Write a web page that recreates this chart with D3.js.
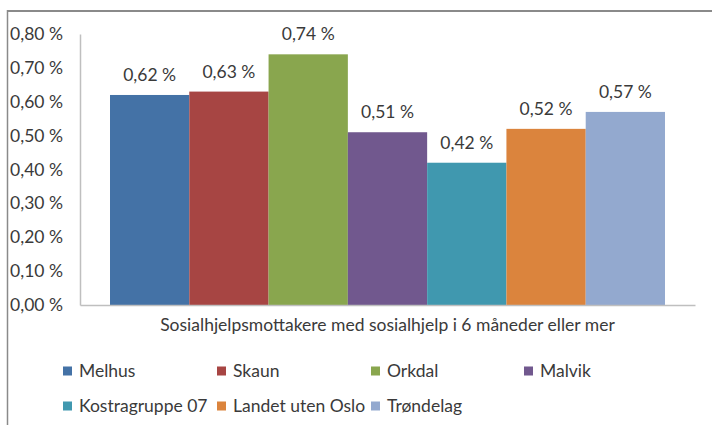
<!DOCTYPE html>
<html>
<head>
<meta charset="utf-8">
<script src="https://cdn.jsdelivr.net/npm/d3@7"></script>
<style>
  html, body { margin: 0; padding: 0; background: #fff; }
  svg { display: block; }
  text { font-family: Lato, "Open Sans", sans-serif; fill: #3a3a3a; }
</style>
</head>
<body>
<svg id="chart" width="712" height="425"></svg>
<script>
// Share of social assistance recipients on assistance for 6 months or more
const category = "Sosialhjelpsmottakere med sosialhjelp i 6 måneder eller mer";
const seriesNames = ["Melhus", "Skaun", "Orkdal", "Malvik", "Kostragruppe 07", "Landet uten Oslo", "Trøndelag"];
const seriesValues = [0.62, 0.63, 0.74, 0.51, 0.42, 0.52, 0.57];
const seriesColors = ["#4472a6", "#a74543", "#89a64e", "#71588e", "#4098af", "#db843d", "#93a9cf"];
const yTicks = [0, 0.1, 0.2, 0.3, 0.4, 0.5, 0.6, 0.7, 0.8];

const svg = d3.select("#chart");
const fmt = v => v.toFixed(2).replace(".", ",") + " %";
const fontSize = "17.5px";

const plot = { left: 80, right: 695, top: 34, bottom: 305 };

// frame lines (top and left edge)
svg.append("line").attr("x1", 7.5).attr("x2", 712).attr("y1", 11).attr("y2", 11)
  .attr("stroke", "#8a8a8a").attr("stroke-width", 2);
svg.append("line").attr("x1", 7.5).attr("x2", 7.5).attr("y1", 10).attr("y2", 425)
  .attr("stroke", "#8a8a8a").attr("stroke-width", 1.5);

const y = d3.scaleLinear().domain([0, 0.8]).range([plot.bottom, plot.top]);

const x0 = d3.scaleBand().domain([category]).range([plot.left, plot.right])
  .paddingOuter(30 / 555);
const x1 = d3.scaleBand().domain(seriesNames).range([0, x0.bandwidth()]).padding(0);

// y axis
const yAxis = d3.axisLeft(y).tickValues(yTicks).tickSize(0).tickPadding(17).tickFormat(fmt);
const gy = svg.append("g").attr("transform", `translate(${plot.left},0)`).call(yAxis);
gy.select(".domain").attr("stroke", "#bfbfbf").attr("stroke-width", 1.5);
gy.selectAll("text").style("font-size", fontSize).style("font-family", null).attr("fill", "#3a3a3a");

// bars
const g = svg.append("g").attr("transform", `translate(${x0(category)},0)`);
g.selectAll("rect").data(seriesValues).join("rect")
  .attr("x", (d, i) => x1(seriesNames[i]))
  .attr("y", d => y(d))
  .attr("width", x1.bandwidth())
  .attr("height", d => y(0) - y(d))
  .attr("fill", (d, i) => seriesColors[i]);

// value labels
g.selectAll("text.val").data(seriesValues).join("text")
  .attr("class", "val")
  .attr("x", (d, i) => x1(seriesNames[i]) + x1.bandwidth() / 2)
  .attr("y", d => y(d) - 14)
  .attr("text-anchor", "middle")
  .style("font-size", fontSize)
  .text(fmt);

// x axis
const xAxis = d3.axisBottom(x0).tickSize(0).tickPadding(14);
const gx = svg.append("g").attr("transform", `translate(0,${plot.bottom})`).call(xAxis);
gx.select(".domain").attr("stroke", "#bfbfbf").attr("stroke-width", 1.5);
gx.selectAll("text").style("font-size", fontSize).attr("fill", "#3a3a3a");
gx.attr("font-family", null);
gy.attr("font-family", null);

// legend
const legCols = [63, 217, 371, 524];
const legRows = [371, 406];
const leg = svg.append("g");
seriesNames.forEach((name, i) => {
  const cx = legCols[i % 4], cy = legRows[Math.floor(i / 4)];
  leg.append("rect").attr("x", cx).attr("y", cy - 4.5).attr("width", 9).attr("height", 9)
    .attr("fill", seriesColors[i]);
  leg.append("text").attr("x", cx + 16).attr("y", cy).attr("dy", "0.35em")
    .style("font-size", fontSize).text(name);
});
</script>
</body>
</html>
